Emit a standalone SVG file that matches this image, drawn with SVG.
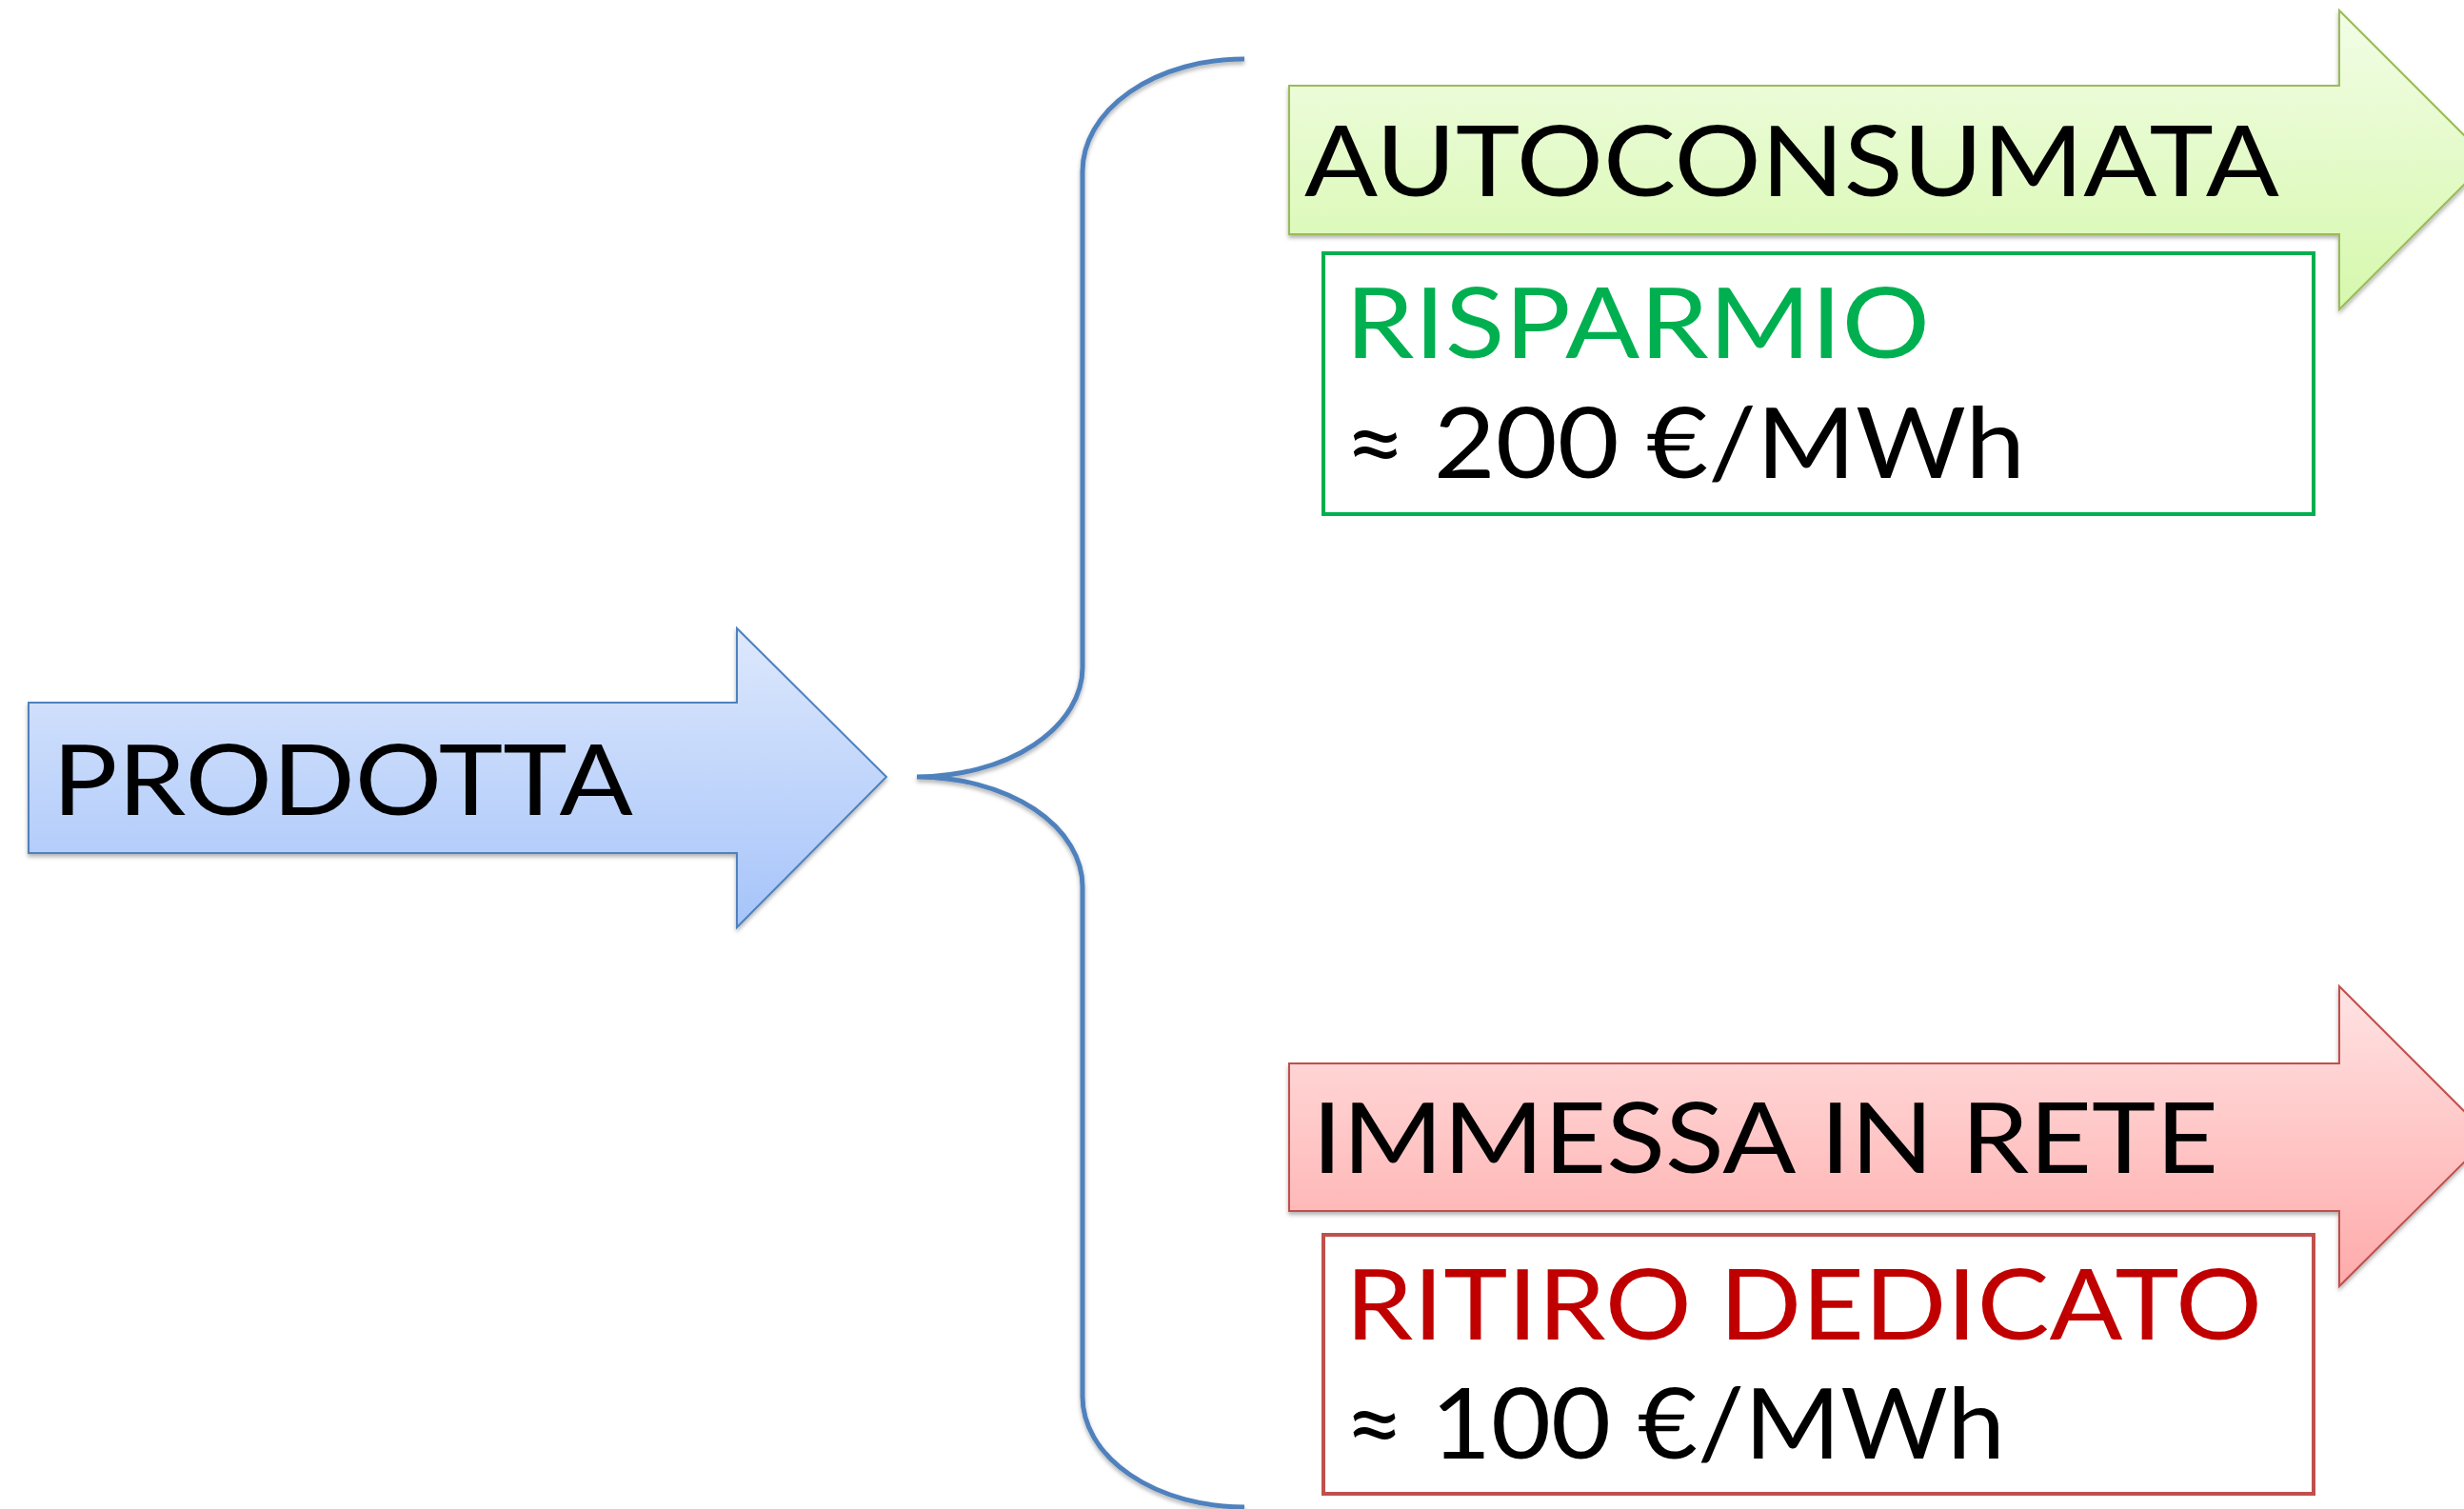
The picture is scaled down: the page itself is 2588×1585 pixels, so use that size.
<svg xmlns="http://www.w3.org/2000/svg" width="2588" height="1585" viewBox="0 0 2588 1585">
<style>
.t{font-family:Lato,"Liberation Sans",sans-serif;font-size:102px;fill:#000}
.g{fill:#00b050}
.r{fill:#c00000}
</style>
<defs>
<linearGradient id="gb" x1="0" y1="0" x2="0" y2="1"><stop offset="0" stop-color="#dde8fc"/><stop offset="1" stop-color="#a6c4fa"/></linearGradient>
<linearGradient id="gg" x1="0" y1="0" x2="0" y2="1"><stop offset="0" stop-color="#f2fde6"/><stop offset="1" stop-color="#d6f8ac"/></linearGradient>
<linearGradient id="gr" x1="0" y1="0" x2="0" y2="1"><stop offset="0" stop-color="#ffe3e3"/><stop offset="1" stop-color="#ffaaaa"/></linearGradient>
<filter id="sh" x="-5%" y="-5%" width="110%" height="115%"><feDropShadow dx="0" dy="3" stdDeviation="2" flood-color="#000" flood-opacity="0.3"/></filter>
</defs>
<rect width="2588" height="1585" fill="#fff"/>
<g id="connectors">
<path d="M1307,62 A170,118 0 0 0 1137,180 L1137,701 A174,115 0 0 1 963,816 A174,115 0 0 1 1137,931 L1137,1467 A170,116 0 0 0 1307,1583" fill="none" stroke="#4f81bd" stroke-width="5" filter="url(#sh)"/>
</g>
<g id="prodotta">
<path d="M30,738 H774 V660 L931,816 L774,974 V896 H30 Z" fill="url(#gb)" stroke="#4f81bd" stroke-width="2" filter="url(#sh)"/>
<text class="t" x="55" y="856" textLength="610" lengthAdjust="spacingAndGlyphs">PRODOTTA</text>
</g>
<g id="autoconsumata">
<path d="M1354,90 H2457 V11 L2614,168 L2457,325 V246 H1354 Z" fill="url(#gg)" stroke="#9bbb59" stroke-width="2" filter="url(#sh)"/>
<text class="t" x="1370" y="206" textLength="1024" lengthAdjust="spacingAndGlyphs">AUTOCONSUMATA</text>
</g>
<g id="risparmio">
<rect x="1390" y="266" width="1040" height="274" fill="#fff" stroke="#00b050" stroke-width="4"/>
<text class="t g" x="1413" y="376" textLength="614" lengthAdjust="spacingAndGlyphs">RISPARMIO</text>
<text class="t" x="1412" y="502" textLength="715" lengthAdjust="spacingAndGlyphs">≈ 200 €/MWh</text>
</g>
<g id="immessa">
<path d="M1354,1117 H2457 V1036 L2615,1194 L2457,1351 V1272 H1354 Z" fill="url(#gr)" stroke="#c0504d" stroke-width="2" filter="url(#sh)"/>
<text class="t" x="1378" y="1232" textLength="952" lengthAdjust="spacingAndGlyphs">IMMESSA IN RETE</text>
</g>
<g id="ritiro">
<rect x="1390" y="1297" width="1040" height="272" fill="#fff" stroke="#c0504d" stroke-width="4"/>
<text class="t r" x="1413" y="1407" textLength="963" lengthAdjust="spacingAndGlyphs">RITIRO DEDICATO</text>
<text class="t" x="1412" y="1532" textLength="694" lengthAdjust="spacingAndGlyphs">≈ 100 €/MWh</text>
</g>
</svg>
